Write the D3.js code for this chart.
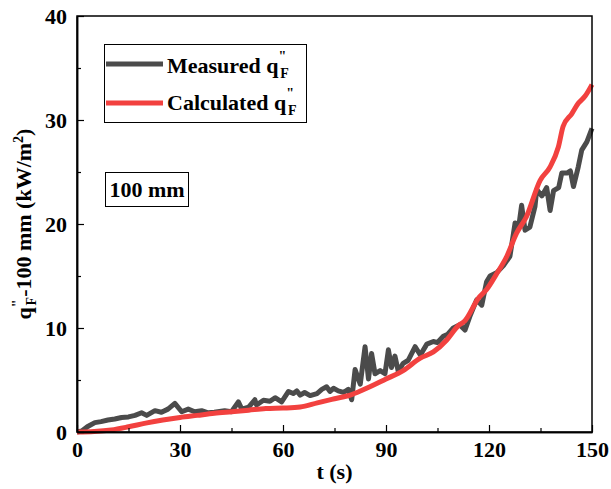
<!DOCTYPE html>
<html>
<head>
<meta charset="utf-8">
<script src="https://cdn.jsdelivr.net/npm/d3@7"></script>
<style>
  body { margin: 0; background: #fff; }
  text { font-family: "Liberation Serif", "Times New Roman", serif; font-weight: bold; }
</style>
</head>
<body>
<svg></svg>
<script>
const xTicks = [0, 30, 60, 90, 120, 150];
const yTicks = [0, 10, 20, 30, 40];
const xMinor = [15, 45, 75, 105, 135];
const yMinor = [5, 15, 25, 35];

const measTime = [0, 1.4, 3, 5.2, 7, 9, 11, 13, 15, 16.9, 18.8, 20.3, 22.7, 24.6, 26.5, 28.5, 30.5, 32.4, 34.3, 36.3, 38.2, 40, 43, 45, 47, 48, 50, 51.8, 52.3, 54.3, 56.2, 57.7, 59.6, 61.6, 63, 64, 65, 66.3, 67.9, 69.9, 71.3, 72.7, 73.7, 74.7, 76.1, 77.6, 79, 80, 81, 82.5, 83.9, 84.9, 85.8, 86.8, 88.3, 89.7, 90.7, 91.6, 92.6, 93.6, 95, 96.5, 98.5, 100, 101.9, 103.8, 105, 106.7, 108, 109.6, 111.5, 113, 114.4, 116.4, 117.9, 119.3, 120.3, 122.2, 124.2, 126.1, 127.6, 128.6, 129.5, 130.5, 131.9, 133.4, 133.9, 135.4, 136.8, 137.8, 138.8, 140.3, 141.2, 142.7, 143.7, 144.6, 146, 147, 148.5, 150];
const measured = [0, 0.1, 0.5, 0.9, 1.0, 1.15, 1.25, 1.4, 1.45, 1.6, 1.85, 1.6, 2.05, 1.9, 2.2, 2.75, 1.95, 2.2, 1.95, 2.05, 1.85, 1.9, 2.05, 1.95, 2.9, 2.2, 2.4, 3.1, 2.6, 3.05, 2.95, 3.3, 2.9, 3.9, 3.7, 3.95, 3.55, 3.8, 3.5, 3.7, 4.1, 4.35, 3.9, 4.2, 3.95, 3.8, 4.1, 3.1, 6.0, 4.6, 8.2, 5.1, 7.55, 5.6, 5.9, 5.6, 7.9, 6.2, 7.3, 5.8, 6.6, 6.9, 8.2, 7.4, 8.45, 8.7, 8.6, 9.2, 9.4, 10.0, 10.3, 9.8, 11.1, 12.7, 12.2, 14.45, 15.0, 15.3, 16.0, 16.9, 20.1, 19.6, 21.8, 19.4, 19.7, 21.7, 23.3, 22.7, 23.5, 21.3, 23.2, 23.5, 24.9, 24.9, 25.1, 23.6, 25.5, 27.1, 27.9, 29.2];

const calcTime = [0, 5, 10, 15, 20, 25, 30, 35, 40, 45, 50, 55, 60, 65, 70, 75, 80, 85, 90, 95, 100, 103.8, 107.7, 111, 113, 116.9, 119.3, 122.2, 125.2, 128, 130.9, 134.9, 137.8, 140.2, 141.6, 144.1, 146, 148, 150];
const calculated = [0, 0.05, 0.2, 0.5, 0.85, 1.15, 1.4, 1.6, 1.8, 1.95, 2.1, 2.25, 2.3, 2.4, 2.8, 3.2, 3.6, 4.3, 5.1, 5.9, 7.1, 7.7, 8.85, 10.2, 10.7, 12.85, 13.7, 15.2, 16.9, 19.1, 20.7, 24.2, 25.5, 27.4, 29.4, 30.6, 31.6, 32.3, 33.4];

const W = 611, H = 489;
const m = {left: 77, top: 16, right: 19, bottom: 57};
const w = W - m.left - m.right, h = H - m.top - m.bottom;

const svg = d3.select('svg').attr('width', W).attr('height', H);
const x = d3.scaleLinear().domain([0, 150]).range([0, w]);
const y = d3.scaleLinear().domain([0, 40]).range([h, 0]);

const g = svg.append('g').attr('transform', 'translate(' + m.left + ',' + m.top + ')');

// data lines
const line = d3.line().x(d => x(d[0])).y(d => y(d[1]));
g.append('path')
  .datum(measTime.map((t, i) => [t, measured[i]]))
  .attr('d', line).attr('fill', 'none')
  .attr('stroke', '#4b4b4b').attr('stroke-width', 5).attr('stroke-linejoin', 'round');
g.append('path')
  .datum(calcTime.map((t, i) => [t, calculated[i]]))
  .attr('d', d3.line().curve(d3.curveMonotoneX).x(d => x(d[0])).y(d => y(d[1])))
  .attr('fill', 'none')
  .attr('stroke', '#f2413f').attr('stroke-width', 5).attr('stroke-linejoin', 'round');

// frame
g.append('rect').attr('width', w).attr('height', h)
  .attr('fill', 'none').attr('stroke', '#000').attr('stroke-width', 1.5);

// axes, ticks inward
const xa = g.append('g').attr('transform', 'translate(0,' + h + ')')
  .call(d3.axisBottom(x).tickValues(xTicks).tickSizeInner(-7).tickSizeOuter(0).tickPadding(9));
const xm = g.append('g').attr('transform', 'translate(0,' + h + ')')
  .call(d3.axisBottom(x).tickValues(xMinor).tickSizeInner(-4).tickSizeOuter(0).tickFormat(''));
const ya = g.append('g')
  .call(d3.axisLeft(y).tickValues(yTicks).tickSizeInner(-7).tickSizeOuter(0).tickPadding(10));
const ym = g.append('g')
  .call(d3.axisLeft(y).tickValues(yMinor).tickSizeInner(-4).tickSizeOuter(0).tickFormat(''));

[xa, xm, ya, ym].forEach(a => {
  a.select('.domain').attr('stroke', '#000').attr('stroke-width', 1.5);
  a.selectAll('line').attr('stroke', '#000').attr('stroke-width', 1.2);
  a.selectAll('text').attr('font-family', '"Liberation Serif", serif')
    .attr('font-weight', 'bold').attr('font-size', 22).attr('fill', '#000');
});

// axis titles
svg.append('text').attr('x', m.left + w / 2).attr('y', 479)
  .attr('text-anchor', 'middle').attr('font-size', 22).text('t (s)');

const yl = svg.append('text')
  .attr('transform', 'translate(31,' + (m.top + h / 2) + ') rotate(-90)')
  .attr('text-anchor', 'middle').attr('font-size', 22);
yl.append('tspan').text('q');
yl.append('tspan').attr('font-size', 14).attr('dy', -9).text('"');
yl.append('tspan').attr('font-size', 14).attr('dx', -6).attr('dy', 14).text('F');
yl.append('tspan').attr('dy', -5).text('-100 mm (kW/m');
yl.append('tspan').attr('font-size', 14).attr('dy', -8).text('2');
yl.append('tspan').attr('dy', 8).text(')');

// legend
const lg = svg.append('g');
lg.append('rect').attr('x', 104.5).attr('y', 44.5).attr('width', 202).attr('height', 78)
  .attr('fill', '#fff').attr('stroke', '#000').attr('stroke-width', 1);
const items = [
  {name: 'Measured', color: '#4b4b4b', ly: 64, ty: 73},
  {name: 'Calculated', color: '#f2413f', ly: 103, ty: 110}
];
items.forEach(it => {
  lg.append('line').attr('x1', 106).attr('x2', 163).attr('y1', it.ly).attr('y2', it.ly)
    .attr('stroke', it.color).attr('stroke-width', 5);
  const t = lg.append('text').attr('x', 167).attr('y', it.ty).attr('font-size', 22);
  t.append('tspan').text(it.name + ' q');
  t.append('tspan').attr('font-size', 14).attr('dy', -12).text('"');
  t.append('tspan').attr('font-size', 14).attr('dx', -6).attr('dy', 17).text('F');
});

// annotation box
svg.append('rect').attr('x', 105.5).attr('y', 172.5).attr('width', 83).attr('height', 34)
  .attr('fill', '#fff').attr('stroke', '#000').attr('stroke-width', 1);
svg.append('text').attr('x', 147).attr('y', 197).attr('text-anchor', 'middle')
  .attr('font-size', 22).text('100 mm');
</script>
</body>
</html>
